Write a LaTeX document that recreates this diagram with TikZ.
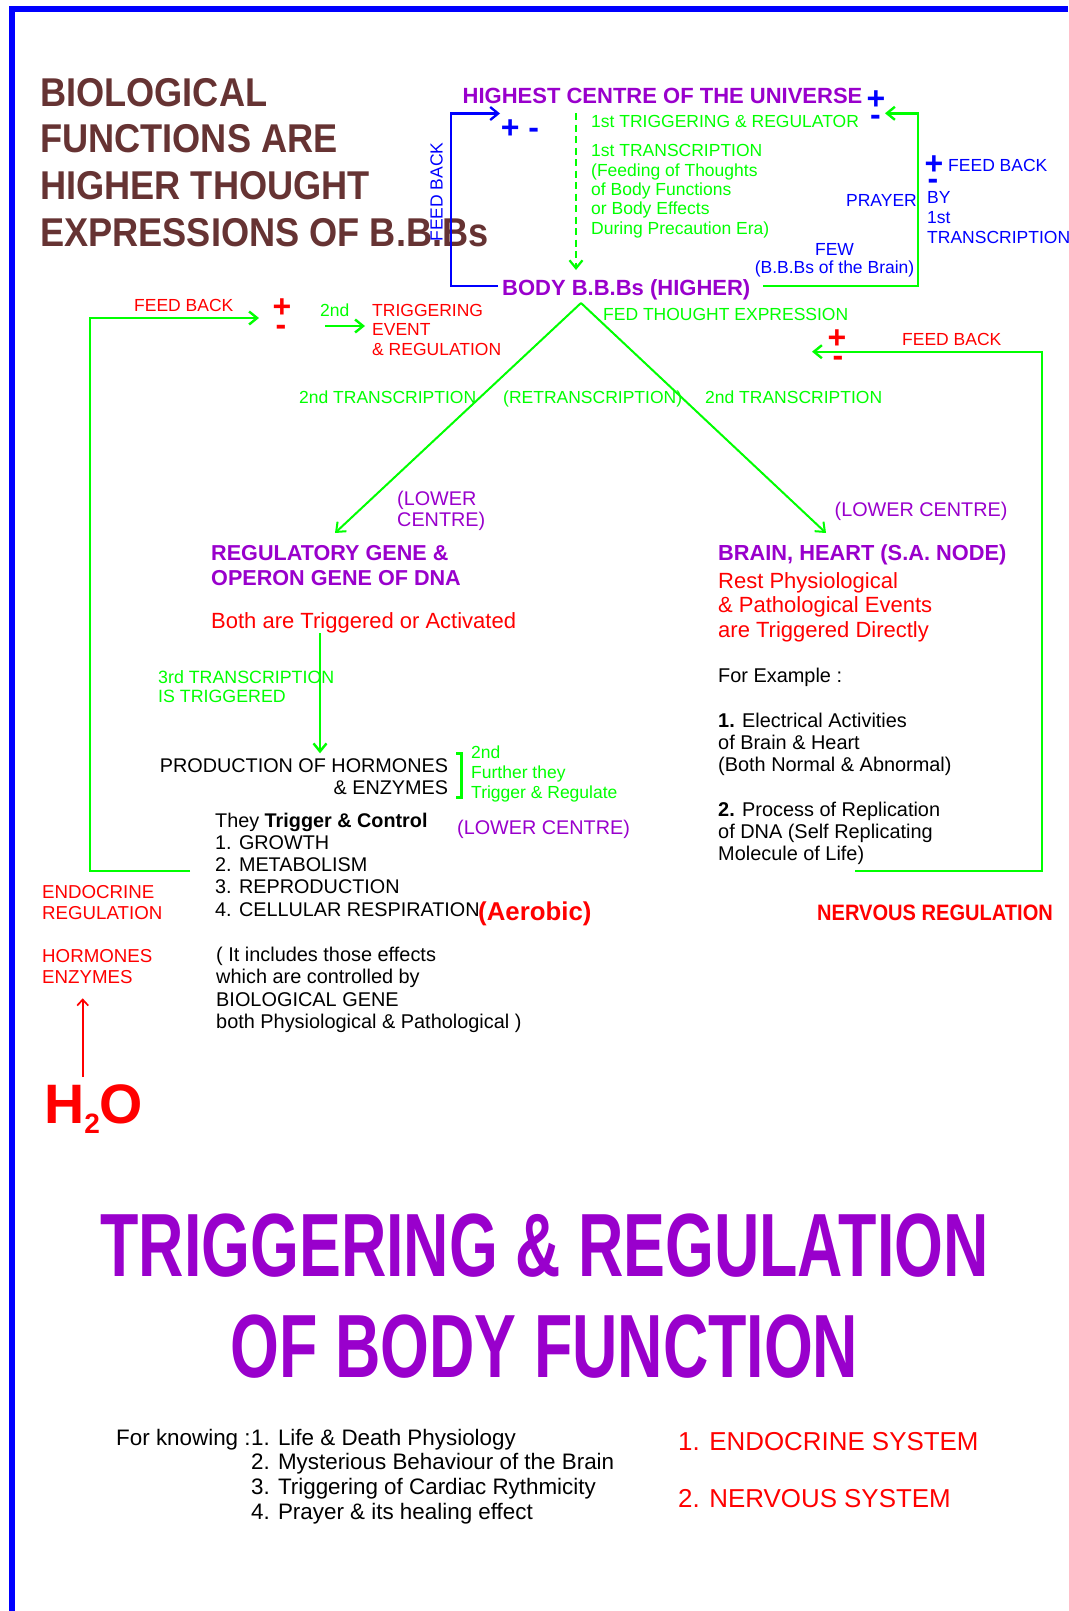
\documentclass[tikz,border=0pt]{standalone}
\usepackage{fontspec}
\setmainfont{Liberation Sans}
\newfontfamily\condfont[FakeStretch=0.9]{Liberation Sans}
\newfontfamily\bannerfont[FakeStretch=0.699]{Liberation Sans}
\usepackage{tikz}
\usetikzlibrary{arrows.meta,positioning}
\definecolor{bbbrown}{HTML}{663333}
\definecolor{bbpurple}{HTML}{9900CC}
\definecolor{bbgreen}{HTML}{00FF00}
\definecolor{bbblue}{HTML}{0000FF}
\definecolor{bbred}{HTML}{FF0000}
\newcommand\setfs[2]{\fontsize{#1}{#2}\selectfont}

\begin{document}
\begin{tikzpicture}[x=1pt,y=-1pt,
    txt/.style={inner sep=0pt,anchor=base west,align=left},
    lab/.style={txt,font=\setfs{17.5}{19.4}},
    pm/.style={inner sep=0pt,anchor=base,font=\bfseries\setfs{32}{32}},
    greenl/.style={draw=bbgreen,line width=2.4pt},
    bluel/.style={draw=bbblue,line width=2.3pt},
    arr/.style={-{Straight Barb[length=8pt,width=13pt]}}]
\useasboundingbox (0,0) rectangle (1068,1611);
\draw[bbblue,line width=6pt] (1068,9.5) -| (11.5,1611);

\node[txt,bbbrown,font=\condfont\bfseries\setfs{40.2}{46.9}] (bio) at (40,246.7) {BIOLOGICAL\\FUNCTIONS ARE\\HIGHER THOUGHT\\EXPRESSIONS OF B.B.Bs};

\node[txt,bbpurple,font=\bfseries\setfs{22}{24}] (hcu) at (462.5,103) {HIGHEST CENTRE OF THE UNIVERSE};
\node[pm,bbblue,anchor=base west] (pmA) at (500.7,138.2) {+ -};
\node[pm,bbblue] (plusA) at (876,109.2) {+};
\node[pm,bbblue] (minusA) at (875.5,125.3) {-};
\node[lab,bbgreen] (trig1) at (591,127) {1st TRIGGERING \& REGULATOR};
\node[lab,bbgreen] (trans1) at (591,234.3) {1st TRANSCRIPTION\\(Feeding of Thoughts\\of Body Functions\\or Body Effects\\During Precaution Era)};
\node[lab,bbblue,rotate=90,anchor=center] (fbA) at (436.5,192) {FEED BACK};
\node[lab,bbblue,anchor=base east] (prayer) at (917,206.7) {PRAYER};
\node[pm,bbblue] (plusB) at (934,174.7) {+};
\node[pm,bbblue] (minusB) at (933,189) {-};
\node[lab,bbblue] (fbB) at (948,171.7) {FEED BACK};
\node[lab,bbblue,font=\setfs{17.5}{19.9}] (byfirst) at (927,243.1) {BY\\1st\\TRANSCRIPTION};
\node[lab,bbblue,anchor=base,align=center,font=\setfs{17.5}{18.3}] (few) at (834.5,273.3) {FEW\\(B.B.Bs of the Brain)};
\node[txt,bbpurple,font=\bfseries\setfs{22}{24}] (body) at (502,295) {BODY B.B.Bs (HIGHER)};

\coordinate (bA) at (498,286);
\coordinate (bAx) at (451,113.5);
\coordinate (bAtop) at (500,113.5);
\draw[bluel,arr] (bA) -| (bAx) -- (bAtop);
\coordinate (gA) at (763,286);
\coordinate (gAx) at (918,113.3);
\coordinate (gAtip) at (885,113.3);
\draw[greenl,arr] (gA) -| (gAx) -- (gAtip);
\coordinate (dA) at (576,113);
\coordinate (dB) at (576,270);
\draw[greenl,line width=2.2pt,dash pattern=on 7pt off 4.5pt,arr] (dA) -- (dB);

\node[lab,bbred] (fbL) at (134,311) {FEED BACK};
\node[pm,bbred] (plusL) at (282,317.2) {+};
\node[pm,bbred] (minusL) at (281,335) {-};
\node[lab,bbgreen] (second) at (320,316.5) {2nd};
\draw[greenl,arr] (second.base west) ++(5,9.5) -- ++(40,0);
\node[lab,bbred] (trigevent) at (372,355.3) {TRIGGERING\\EVENT\\\& REGULATION};
\node[lab,bbgreen] (fedthought) at (603,320) {FED THOUGHT EXPRESSION};
\node[pm,bbred] (plusR) at (837,348.5) {+};
\node[pm,bbred] (minusR) at (838,366) {-};
\node[lab,bbred] (fbR) at (902,345.7) {FEED BACK};

\coordinate (apex) at (581,303);
\coordinate (tipL) at (335,533);
\coordinate (tipR) at (826,533);
\draw[greenl,line width=2pt,arr] (apex) -- (tipL);
\draw[greenl,line width=2pt,arr] (apex) -- (tipR);
\node[lab,bbgreen] (trans2L) at (299,403.5) {2nd TRANSCRIPTION};
\node[lab,bbgreen] (retrans) at (503,403.5) {(RETRANSCRIPTION)};
\node[lab,bbgreen] (trans2R) at (705,403.5) {2nd TRANSCRIPTION};

\coordinate (gL) at (190,871);
\coordinate (gLx) at (90,318);
\coordinate (gLtip) at (259,318);
\draw[greenl,arr] (gL) -| (gLx) -- (gLtip);
\coordinate (gR) at (855,871);
\coordinate (gRx) at (1041.7,351.7);
\coordinate (gRtip) at (812,351.7);
\draw[greenl,arr] (gR) -| (gRx) -- (gRtip);

\node[txt,bbpurple,font=\setfs{19.8}{21.5}] (lowerL) at (397,526.5) {(LOWER\\CENTRE)};
\node[txt,bbpurple,font=\setfs{19.8}{21.5}] (lowerR) at (834.5,516) {(LOWER CENTRE)};
\node[txt,bbpurple,font=\bfseries\setfs{21.6}{25}] (reggene) at (211,585) {REGULATORY GENE \&\\OPERON GENE OF DNA};
\node[txt,bbred,font=\setfs{22}{24}] (both) at (211,628.3) {Both are Triggered or Activated};
\coordinate (gx) at (320,0);
\coordinate (gxEnd) at (320,753.3);
\draw[greenl,arr] (both.south -| gx) -- (gxEnd);
\node[txt,bbgreen,font=\setfs{17.8}{19.4}] (trans3) at (158,702.7) {3rd TRANSCRIPTION\\IS TRIGGERED};
\node[txt,align=right,anchor=base east,font=\setfs{19.8}{21.3}] (prod) at (448.3,794) {PRODUCTION OF HORMONES\\\& ENZYMES};
\draw[bbgreen,line width=3pt] (prod.north east) ++(8,-5) -- ++(5,0) -- ++(0,44) -- ++(-5,0);
\node[lab,bbgreen,font=\setfs{17.5}{20.3}] (further) at (471,798.9) {2nd\\Further they\\Trigger \& Regulate};
\node[txt,font=\setfs{19.8}{22.2}] (they) at (215,916.1) {They \textbf{Trigger \& Control}\\1. GROWTH\\2. METABOLISM\\3. REPRODUCTION\\4. CELLULAR RESPIRATION};
\node[txt,bbred,font=\bfseries\setfs{25.8}{28}] (aerobic) at (478,920) {(Aerobic)};
\node[txt,bbpurple,font=\setfs{19.8}{22}] (lowerM) at (457,834) {(LOWER CENTRE)};
\node[txt,font=\setfs{19.9}{22.2}] (includes) at (216,1028.3) {( It includes those effects\\which are controlled by\\BIOLOGICAL GENE\\both Physiological \& Pathological )};

\node[txt,bbred,font=\setfs{18.7}{20.7}] (endoreg) at (42,919) {ENDOCRINE\\REGULATION};
\node[txt,bbred,font=\setfs{18.7}{20.7}] (hormenz) at (42,983.4) {HORMONES\\ENZYMES};
\node[txt,bbred,font=\bfseries\setfs{55.6}{58}] (water) at (44,1123.3) {H\raisebox{-10.5pt}{\setfs{28}{29}2}O};
\coordinate (h2oTop) at (82.7,1077);
\coordinate (hormBot) at (82.7,998.3);
\draw[bbred,line width=1.7pt,-{Straight Barb[length=6pt,width=11pt]}] (h2oTop) -- (hormBot);

\node[txt,bbpurple,font=\bfseries\setfs{21.8}{24}] (brain) at (718,560.7) {BRAIN, HEART (S.A. NODE)};
\node[txt,bbred,font=\setfs{22}{24.5}] (rest) at (718,637.3) {Rest Physiological\\\& Pathological Events\\are Triggered Directly};
\node[txt,font=\setfs{19.9}{22.2}] (forex) at (718,682.7) {For Example :};
\node[txt,font=\setfs{19.9}{22.2}] (ex1) at (718,771.7) {\textbf{1.} Electrical Activities\\of Brain \& Heart\\(Both Normal \& Abnormal)};
\node[txt,font=\setfs{19.9}{22.2}] (ex2) at (718,860.4) {\textbf{2.} Process of Replication\\of DNA (Self Replicating\\Molecule of Life)};
\node[txt,bbred,font=\condfont\bfseries\setfs{22.3}{24}] (nervous) at (817,920) {NERVOUS REGULATION};

\node[inner sep=0pt,anchor=base,align=center,bbpurple,font=\bannerfont\bfseries\setfs{89.8}{101.7}] (banner) at (544.5,1377.7) {TRIGGERING \& REGULATION\\OF BODY FUNCTION};
\node[txt,font=\setfs{22.4}{24.8}] (forknow) at (116,1445) {For knowing :};
\node[txt,anchor=north west,font=\setfs{22.4}{24.8}] (knowlist) at (forknow.north east) {1. Life \& Death Physiology\\2. Mysterious Behaviour of the Brain\\3. Triggering of Cardiac Rythmicity\\4. Prayer \& its healing effect};
\node[txt,bbred,font=\setfs{25.9}{57.3}] (systems) at (678,1507.3) {1. ENDOCRINE SYSTEM\\2. NERVOUS SYSTEM};
\end{tikzpicture}
\end{document}
